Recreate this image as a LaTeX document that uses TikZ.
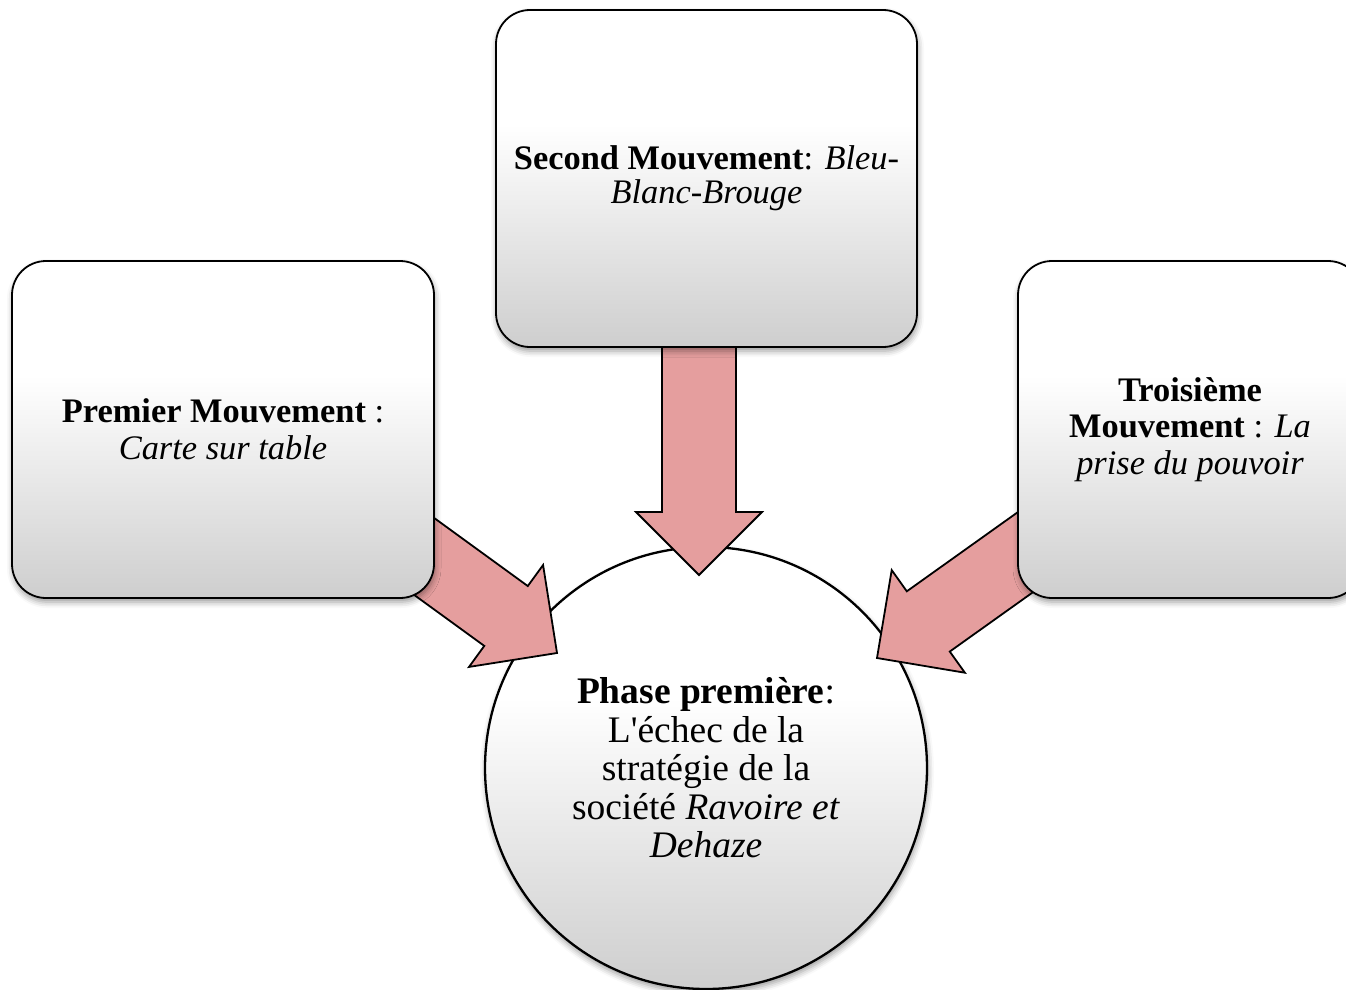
\documentclass[tikz,border=0pt]{standalone}
\usepackage{fontspec}
\setmainfont{Liberation Serif}
\usetikzlibrary{calc,shadows.blur}

\pgfdeclarelayer{front}
\pgfsetlayers{main,front}

\definecolor{shadegrey}{RGB}{206,206,206}
\definecolor{arrowpink}{RGB}{229,158,158}
\pgfdeclareverticalshading{softgrey}{100bp}{color(0bp)=(shadegrey); color(25bp)=(shadegrey); color(58bp)=(white); color(100bp)=(white)}

\tikzset{
  softshadow/.style={blur shadow={shadow xshift=1pt, shadow yshift=-4pt, shadow blur radius=6pt, shadow opacity=40}},
  panel/.style={draw=black, line width=1.8pt, shade, shading=softgrey, rounded corners=34pt,
    align=center, inner sep=0pt, font=\fontsize{34.4}{36.5}\selectfont, softshadow},
  hub/.style={circle, draw=black, line width=2.3pt, shade, shading=softgrey, minimum size=442pt,
    align=center, inner sep=0pt, font=\fontsize{37.5}{38.5}\selectfont, softshadow},
  bigarrow/.style={fill=arrowpink, draw=black, line width=1.8pt, line join=miter}
}

% block arrow from tail coordinate #1 to tip coordinate #2
\newcommand\blockarrow[2]{%
  \coordinate (#2-base) at ($(#2)!63pt!(#1)$);
  \draw[bigarrow] ($(#1)!37pt!90:(#2)$) -- ($(#2-base)!37pt!90:(#2)$)
    -- ($(#2-base)!63pt!90:(#2)$) -- (#2) -- ($(#2-base)!63pt!-90:(#2)$)
    -- ($(#2-base)!37pt!-90:(#2)$) -- ($(#1)!37pt!-90:(#2)$) -- cycle;}

\begin{document}
\begin{tikzpicture}[x=1pt,y=-1pt]
\useasboundingbox (0,0) rectangle (1346,990);

% central disc, painted first
\node[hub] (circ) at (706,768)
  {\textbf{Phase première}:\\L\textquotesingle échec de la\\stratégie de la\\société \textit{Ravoire et}\\\textit{Dehaze}};

% the three panels sit above the arrows
\begin{pgfonlayer}{front}
\node[panel, minimum width=422pt, minimum height=337pt] (b1) at (223,429.5)
  {\textbf{Premier Mouvement} :\\\textit{Carte sur table}};
\node[panel, minimum width=421pt, minimum height=337pt, font=\fontsize{34.4}{34}\selectfont] (b2) at (706.5,178.5)
  {\textbf{Second Mouvement}: \textit{Bleu-}\\\textit{Blanc-Brouge}};
\node[panel, minimum width=344pt, minimum height=337pt] (b3) at (1190,429.5)
  {\textbf{Troisième}\\\textbf{Mouvement} : \textit{La}\\\textit{prise du pouvoir}};
\end{pgfonlayer}

\coordinate (t1) at ($(b1.center)+(10,-12)$);
\coordinate (p1) at ($(circ.center)+(-149,-115)$);
\coordinate (t2) at ($(b2.center)+(-7.5,0)$);
\coordinate (p2) at ($(circ.center)+(-7,-193)$);
\coordinate (t3) at ($(b3.center)+(13,-4)$);
\coordinate (p3) at ($(circ.center)+(171,-110)$);

\blockarrow{t1}{p1}
\blockarrow{t2}{p2}
\blockarrow{t3}{p3}
\end{tikzpicture}
\end{document}
